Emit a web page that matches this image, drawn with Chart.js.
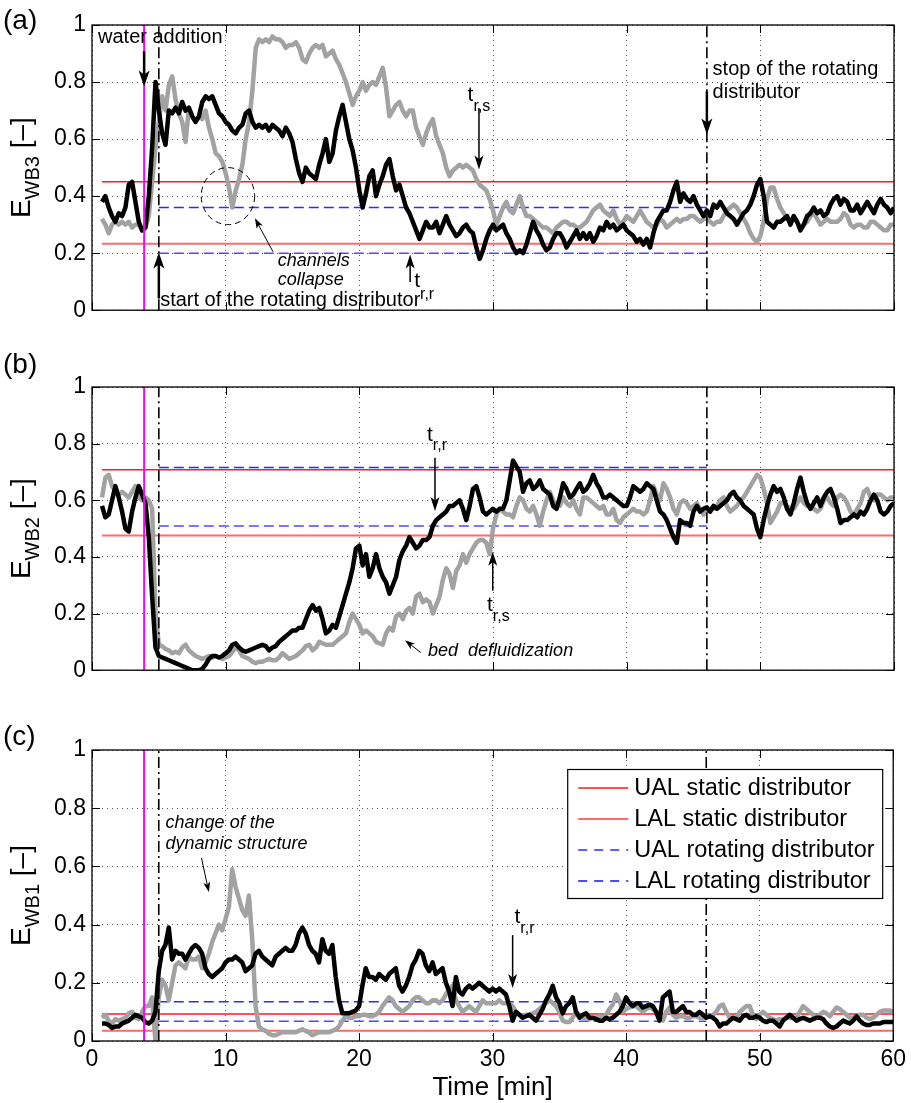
<!DOCTYPE html>
<html>
<head>
<meta charset="utf-8">
<script src="https://cdn.jsdelivr.net/npm/chart.js@4.4.1/dist/chart.umd.min.js"></script>
<style>
  body { margin: 0; background: #fff; }
  #wrap { position: relative; width: 911px; height: 1103px; }
  canvas { position: absolute; left: 0; }
</style>
</head>
<body>
<div id="wrap">
  <canvas id="cA" width="911" height="330" style="top:0px"></canvas>
  <canvas id="cB" width="911" height="360" style="top:330px"></canvas>
  <canvas id="cC" width="911" height="413" style="top:690px"></canvas>
</div>
<script>
// time axis: first sample at 0.75 min, one sample every 0.25 min up to 60 min
var T0 = 0.75, DT = 0.25;

// (a) E_WB3
var aBlack = [0.38,
  0.40,0.36,0.33,0.31, 0.34,0.33,0.36,0.44, 0.45,0.38,0.31,0.28, 0.29,0.40,0.57,0.80, 0.70,0.62,0.58,0.70,
  0.69,0.71,0.69,0.73, 0.70,0.71,0.68,0.66, 0.68,0.73,0.75,0.74, 0.75,0.72,0.69,0.68, 0.66,0.65,0.63,0.62,
  0.64,0.65,0.69,0.70, 0.66,0.64,0.65,0.64, 0.65,0.63,0.65,0.64, 0.63,0.61,0.64,0.62, 0.59,0.53,0.48,0.45,
  0.50,0.48,0.47,0.46, 0.51,0.55,0.60,0.52, 0.55,0.63,0.68,0.72, 0.66,0.60,0.56,0.50, 0.42,0.36,0.41,0.47,
  0.49,0.40,0.44,0.47, 0.51,0.53,0.47,0.42, 0.44,0.40,0.36,0.34, 0.31,0.28,0.25,0.28, 0.31,0.29,0.29,0.31,
  0.27,0.30,0.33,0.30, 0.28,0.26,0.27,0.29, 0.30,0.28,0.27,0.22, 0.18,0.21,0.25,0.28, 0.30,0.28,0.29,0.30,
  0.27,0.25,0.22,0.20, 0.21,0.20,0.23,0.27, 0.31,0.28,0.26,0.23, 0.21,0.22,0.25,0.27, 0.27,0.25,0.22,0.24,
  0.26,0.28,0.25,0.27, 0.25,0.27,0.24,0.26, 0.29,0.28,0.31,0.29, 0.30,0.28,0.29,0.30, 0.28,0.27,0.26,0.24,
  0.25,0.23,0.25,0.22, 0.27,0.31,0.33,0.35, 0.35,0.38,0.42,0.45, 0.38,0.41,0.39,0.38, 0.40,0.37,0.35,0.33,
  0.35,0.33,0.37,0.36, 0.38,0.36,0.34,0.33, 0.32,0.30,0.32,0.34, 0.35,0.37,0.40,0.44, 0.46,0.40,0.31,0.30,
  0.29,0.31,0.31,0.32, 0.33,0.30,0.33,0.31, 0.28,0.30,0.33,0.34, 0.36,0.34,0.35,0.33, 0.34,0.37,0.39,0.40,
  0.37,0.39,0.38,0.35, 0.35,0.37,0.34,0.36, 0.38,0.36,0.34,0.37, 0.39,0.37,0.36,0.34,
  0.36];
var aGray = [0.32,
  0.30,0.27,0.30,0.31, 0.30,0.31,0.30,0.31, 0.29,0.30,0.30,0.28, 0.29,0.33,0.45,0.57, 0.66,0.75,0.70,0.79,
  0.82,0.74,0.69,0.66, 0.59,0.71,0.68,0.66, 0.68,0.67,0.70,0.64, 0.60,0.55,0.54,0.52, 0.48,0.43,0.36,0.42,
  0.46,0.51,0.60,0.66, 0.77,0.92,0.95,0.94, 0.95,0.94,0.96,0.95, 0.95,0.94,0.92,0.93, 0.93,0.94,0.92,0.88,
  0.87,0.90,0.92,0.93, 0.92,0.93,0.89,0.90, 0.91,0.88,0.86,0.83, 0.80,0.76,0.72,0.75, 0.77,0.80,0.77,0.79,
  0.80,0.79,0.82,0.85, 0.78,0.68,0.70,0.72, 0.73,0.70,0.68,0.70, 0.70,0.64,0.61,0.58, 0.62,0.65,0.67,0.61,
  0.58,0.55,0.50,0.47, 0.49,0.50,0.51,0.50, 0.51,0.50,0.49,0.46, 0.44,0.43,0.42,0.39, 0.35,0.30,0.33,0.36,
  0.38,0.35,0.34,0.37, 0.40,0.36,0.33,0.33, 0.32,0.31,0.30,0.29, 0.29,0.28,0.27,0.29, 0.30,0.31,0.31,0.30,
  0.30,0.29,0.29,0.30, 0.31,0.33,0.35,0.36, 0.37,0.35,0.34,0.33, 0.35,0.32,0.30,0.31, 0.33,0.32,0.31,0.33,
  0.35,0.33,0.31,0.30, 0.29,0.30,0.32,0.31, 0.29,0.30,0.31,0.32, 0.31,0.32,0.32,0.33, 0.33,0.32,0.31,0.32,
  0.32,0.31,0.30,0.31, 0.31,0.33,0.35,0.36, 0.37,0.36,0.34,0.32, 0.30,0.27,0.25,0.24, 0.26,0.31,0.39,0.43,
  0.43,0.39,0.36,0.34, 0.32,0.31,0.33,0.31, 0.29,0.30,0.31,0.33, 0.34,0.32,0.30,0.31, 0.32,0.31,0.31,0.31,
  0.32,0.34,0.33,0.30, 0.29,0.30,0.30,0.29, 0.29,0.31,0.31,0.30, 0.29,0.28,0.28,0.30,
  0.30];

// (b) E_WB2
var bBlack = [0.58,
  0.54,0.55,0.60,0.65, 0.61,0.56,0.50,0.49, 0.56,0.61,0.65,0.62, 0.59,0.47,0.26,0.08, 0.05,0.045,0.04,0.035,
  0.03,0.025,0.02,0.015, 0.01,0.005,0.0,0.0, 0.0,0.005,0.02,0.04, 0.05,0.05,0.045,0.05, 0.06,0.07,0.09,0.095,
  0.08,0.07,0.065,0.07, 0.075,0.08,0.085,0.09, 0.085,0.07,0.08,0.085, 0.10,0.11,0.12,0.13, 0.14,0.14,0.15,0.15,
  0.18,0.21,0.23,0.21, 0.22,0.18,0.13,0.14, 0.16,0.15,0.19,0.23, 0.27,0.31,0.36,0.43, 0.44,0.37,0.41,0.33,
  0.36,0.41,0.36,0.33, 0.31,0.27,0.30,0.33, 0.39,0.42,0.44,0.47, 0.45,0.43,0.44,0.46, 0.46,0.47,0.51,0.53,
  0.54,0.55,0.56,0.58, 0.58,0.59,0.60,0.57, 0.53,0.58,0.64,0.65, 0.61,0.56,0.55,0.56, 0.57,0.56,0.57,0.57,
  0.60,0.67,0.74,0.72, 0.70,0.63,0.66,0.67, 0.64,0.65,0.67,0.64, 0.63,0.62,0.58,0.57, 0.61,0.66,0.64,0.61,
  0.62,0.64,0.66,0.63, 0.64,0.66,0.69,0.66, 0.64,0.61,0.61,0.62, 0.61,0.60,0.59,0.58, 0.58,0.61,0.65,0.64,
  0.63,0.64,0.66,0.65, 0.64,0.60,0.56,0.55, 0.53,0.50,0.47,0.45, 0.53,0.52,0.52,0.51, 0.56,0.58,0.56,0.57,
  0.575,0.56,0.58,0.57, 0.58,0.59,0.60,0.62, 0.63,0.61,0.60,0.58, 0.57,0.56,0.55,0.50, 0.47,0.53,0.58,0.62,
  0.65,0.63,0.64,0.61, 0.57,0.55,0.59,0.64, 0.68,0.63,0.59,0.57, 0.59,0.61,0.58,0.61, 0.63,0.64,0.61,0.57,
  0.52,0.53,0.53,0.54, 0.55,0.54,0.56,0.55, 0.57,0.60,0.62,0.60, 0.56,0.55,0.56,0.58,
  0.59];
var bGray = [0.61,
  0.68,0.69,0.65,0.63, 0.62,0.63,0.62,0.61, 0.63,0.65,0.61,0.60, 0.61,0.60,0.57,0.20, 0.09,0.085,0.075,0.07,
  0.06,0.065,0.06,0.08, 0.09,0.07,0.06,0.05, 0.045,0.04,0.045,0.05, 0.045,0.05,0.045,0.04, 0.045,0.05,0.065,0.08,
  0.07,0.05,0.045,0.04, 0.03,0.025,0.03,0.03, 0.035,0.04,0.035,0.035, 0.045,0.06,0.05,0.04, 0.045,0.05,0.06,0.07,
  0.085,0.09,0.07,0.08, 0.10,0.095,0.09,0.09, 0.09,0.10,0.11,0.12, 0.13,0.17,0.20,0.18, 0.16,0.13,0.14,0.13,
  0.12,0.10,0.095,0.09, 0.13,0.15,0.14,0.19, 0.20,0.18,0.21,0.22, 0.20,0.26,0.27,0.24, 0.25,0.24,0.20,0.23,
  0.26,0.32,0.36,0.34, 0.29,0.35,0.37,0.41, 0.38,0.41,0.43,0.45, 0.46,0.46,0.45,0.41, 0.50,0.55,0.57,0.56,
  0.55,0.55,0.54,0.58, 0.61,0.60,0.57,0.56, 0.58,0.55,0.51,0.56, 0.60,0.63,0.60,0.58, 0.58,0.61,0.59,0.58,
  0.60,0.57,0.55,0.61, 0.61,0.60,0.59,0.58, 0.57,0.58,0.55,0.55, 0.57,0.53,0.52,0.54, 0.55,0.56,0.57,0.56,
  0.56,0.55,0.56,0.60, 0.65,0.62,0.60,0.66, 0.64,0.61,0.57,0.55, 0.59,0.60,0.59,0.57, 0.58,0.59,0.57,0.55,
  0.56,0.57,0.57,0.58, 0.60,0.61,0.58,0.56, 0.57,0.58,0.60,0.61, 0.63,0.65,0.67,0.69, 0.68,0.64,0.59,0.52,
  0.54,0.56,0.59,0.59, 0.58,0.57,0.57,0.59, 0.61,0.59,0.58,0.58, 0.57,0.56,0.57,0.60, 0.61,0.59,0.58,0.61,
  0.62,0.61,0.59,0.56, 0.55,0.57,0.59,0.63, 0.64,0.61,0.60,0.62, 0.62,0.61,0.60,0.61,
  0.61];

// (c) E_WB1
var cBlack = [0.06,
  0.06,0.055,0.045,0.05, 0.05,0.06,0.065,0.07, 0.08,0.09,0.085,0.08, 0.065,0.06,0.07,0.10, 0.24,0.31,0.33,0.39,
  0.28,0.31,0.30,0.30, 0.28,0.30,0.32,0.33, 0.32,0.30,0.25,0.23, 0.22,0.23,0.24,0.25, 0.27,0.28,0.28,0.29,
  0.28,0.27,0.24,0.25, 0.26,0.30,0.31,0.29, 0.28,0.27,0.26,0.29, 0.30,0.31,0.32,0.31, 0.31,0.33,0.37,0.39,
  0.37,0.33,0.31,0.30, 0.27,0.35,0.31,0.30, 0.33,0.22,0.14,0.095, 0.095,0.095,0.10,0.105, 0.12,0.19,0.25,0.22,
  0.22,0.21,0.23,0.22, 0.21,0.23,0.24,0.25, 0.19,0.17,0.19,0.22, 0.26,0.28,0.31,0.30, 0.26,0.24,0.27,0.23,
  0.24,0.25,0.20,0.17, 0.12,0.22,0.17,0.16, 0.18,0.19,0.18,0.19, 0.20,0.19,0.18,0.17, 0.18,0.17,0.18,0.17,
  0.16,0.12,0.07,0.10, 0.09,0.08,0.085,0.09, 0.08,0.07,0.09,0.11, 0.14,0.16,0.19,0.15, 0.13,0.095,0.12,0.13,
  0.15,0.10,0.08,0.09, 0.095,0.08,0.08,0.075, 0.07,0.07,0.08,0.075, 0.08,0.09,0.10,0.12, 0.15,0.13,0.12,0.13,
  0.13,0.115,0.12,0.125, 0.12,0.10,0.07,0.15, 0.16,0.17,0.10,0.10, 0.11,0.12,0.10,0.10, 0.09,0.09,0.10,0.09,
  0.08,0.085,0.08,0.07, 0.05,0.06,0.06,0.07, 0.08,0.075,0.07,0.085, 0.09,0.08,0.08,0.085, 0.08,0.07,0.065,0.07,
  0.07,0.06,0.05,0.07, 0.08,0.09,0.08,0.07, 0.075,0.08,0.075,0.07, 0.075,0.08,0.08,0.075, 0.06,0.05,0.045,0.05,
  0.06,0.07,0.065,0.06, 0.07,0.085,0.07,0.06, 0.055,0.055,0.06,0.06, 0.06,0.065,0.065,0.065,
  0.065];
var cGray = [0.08,
  0.09,0.07,0.06,0.075, 0.07,0.075,0.08,0.095, 0.10,0.08,0.075,0.10, 0.12,0.12,0.15,0.0, 0.15,0.21,0.19,0.14,
  0.20,0.26,0.27,0.26, 0.25,0.29,0.28,0.28, 0.29,0.25,0.27,0.30, 0.34,0.37,0.40,0.38, 0.42,0.46,0.59,0.53,
  0.49,0.45,0.43,0.50, 0.35,0.12,0.05,0.04, 0.035,0.025,0.02,0.02, 0.025,0.03,0.03,0.03, 0.03,0.03,0.035,0.04,
  0.035,0.03,0.02,0.025, 0.03,0.03,0.03,0.03, 0.035,0.04,0.05,0.07, 0.085,0.08,0.08,0.085, 0.085,0.09,0.09,0.085,
  0.085,0.09,0.10,0.12, 0.135,0.15,0.14,0.12, 0.11,0.10,0.11,0.12, 0.14,0.15,0.15,0.14, 0.13,0.13,0.14,0.14,
  0.13,0.14,0.16,0.18, 0.19,0.14,0.12,0.10, 0.11,0.12,0.11,0.10, 0.12,0.14,0.13,0.13, 0.13,0.13,0.14,0.13,
  0.13,0.13,0.12,0.10, 0.09,0.085,0.09,0.09, 0.095,0.10,0.11,0.12, 0.13,0.14,0.13,0.12, 0.10,0.07,0.065,0.065,
  0.08,0.10,0.09,0.08, 0.08,0.075,0.08,0.08, 0.085,0.08,0.09,0.11, 0.125,0.16,0.14,0.10, 0.11,0.115,0.12,0.12,
  0.11,0.10,0.11,0.115, 0.11,0.10,0.08,0.07, 0.10,0.115,0.09,0.08, 0.085,0.085,0.08,0.08, 0.085,0.085,0.08,0.08,
  0.085,0.085,0.09,0.10, 0.12,0.125,0.10,0.08, 0.08,0.08,0.10,0.11, 0.12,0.12,0.09,0.075, 0.09,0.10,0.09,0.08,
  0.075,0.07,0.075,0.075, 0.08,0.08,0.08,0.08, 0.10,0.12,0.11,0.10, 0.09,0.08,0.09,0.10, 0.095,0.085,0.10,0.115,
  0.11,0.10,0.09,0.08, 0.08,0.085,0.09,0.09, 0.08,0.075,0.08,0.09, 0.10,0.105,0.105,0.105,
  0.10];

// action limits for panels a, b, c
var ualStatic = [0.45, 0.708, 0.093];
var lalStatic = [0.233, 0.476, 0.035];
var ualRot = [0.36, 0.716, 0.135];
var lalRot = [0.20, 0.509, 0.068];

// event times [min]
var tWater = 3.9, tStart = 5, tStop = 46;

var xTicks = [0, 10, 20, 30, 40, 50, 60];
var yTicks = [0, 0.2, 0.4, 0.6, 0.8, 1];

var FONT = "'Liberation Sans', Arial, sans-serif";
Chart.defaults.font.family = FONT;
Chart.defaults.color = '#000';

function pts(vals) {
  return vals.map(function(v, i) { return {x: T0 + i * DT, y: v}; });
}
function hline(x1, x2, v) { return [{x: x1, y: v}, {x: x2, y: v}]; }
function vline(t) { return [{x: t, y: 0}, {x: t, y: 1}]; }

function arrow(ctx, x1, y1, x2, y2, lw, len, wid) {
  var a = Math.atan2(y2 - y1, x2 - x1);
  var ux = Math.cos(a), uy = Math.sin(a), nx = -uy, ny = ux;
  var bx = x2 - ux * len, by = y2 - uy * len;
  var mx = x2 - ux * len * 0.75, my = y2 - uy * len * 0.75;
  ctx.save();
  ctx.strokeStyle = '#000'; ctx.fillStyle = '#000'; ctx.lineWidth = lw;
  ctx.beginPath(); ctx.moveTo(x1, y1); ctx.lineTo(mx, my); ctx.stroke();
  ctx.beginPath();
  ctx.moveTo(x2, y2);
  ctx.lineTo(bx + nx * wid / 2, by + ny * wid / 2);
  ctx.lineTo(mx, my);
  ctx.lineTo(bx - nx * wid / 2, by - ny * wid / 2);
  ctx.closePath(); ctx.fill();
  ctx.restore();
}

function text(ctx, s, x, y, size, italic) {
  ctx.font = (italic ? 'italic ' : '') + size + 'px ' + FONT;
  ctx.fillStyle = '#000';
  ctx.textBaseline = 'alphabetic';
  ctx.textAlign = 'left';
  ctx.fillText(s, x, y);
}

// "t" with a subscript, placed in data coordinates
function tsub(ctx, X, Y, t, v, vs, sub) {
  text(ctx, 't', X(t), Y(v), 21);
  var w = ctx.measureText('t').width;
  text(ctx, sub, X(t) + w, Y(vs), 16);
}

var annotations = [
  // (a)
  function(ctx, X, Y) {
    text(ctx, 'water addition', X(0.45), Y(0.938), 20);
    arrow(ctx, X(tWater), Y(0.908), X(tWater), Y(0.784), 2.5, 16, 11);
    arrow(ctx, X(tStart), Y(0.041), X(tStart), Y(0.202), 2.5, 16, 11);
    text(ctx, 'start of the rotating distributor', X(5.1), Y(0.014), 20);
    tsub(ctx, X, Y, 24.1, 0.082, 0.041, 'r,r');
    arrow(ctx, X(23.8), Y(0.099), X(23.8), Y(0.195), 1.5, 14, 9);
    tsub(ctx, X, Y, 28.1, 0.733, 0.699, 'r,s');
    arrow(ctx, X(28.95), Y(0.709), X(28.95), Y(0.493), 1.5, 14, 9);
    text(ctx, 'stop of the rotating', X(46.43), Y(0.825), 20);
    text(ctx, 'distributor', X(46.43), Y(0.743), 20);
    arrow(ctx, X(tStop), Y(0.767), X(tStop), Y(0.616), 2.5, 16, 11);
    text(ctx, 'channels', X(13.9), Y(0.154), 18, true);
    text(ctx, 'collapse', X(13.9), Y(0.089), 18, true);
    arrow(ctx, X(13.54), Y(0.205), X(12.19), Y(0.322), 1, 10, 7);
    ctx.save();
    ctx.setLineDash([6, 4]); ctx.lineWidth = 1; ctx.strokeStyle = '#000';
    ctx.beginPath();
    ctx.ellipse(X(10.17), Y(0.40), X(12.17) - X(10.17), Y(0.30) - Y(0.40), 0, 0, Math.PI * 2);
    ctx.stroke();
    ctx.restore();
  },
  // (b)
  function(ctx, X, Y) {
    tsub(ctx, X, Y, 25.06, 0.808, 0.777, 'r,r');
    arrow(ctx, X(25.66), Y(0.75), X(25.66), Y(0.562), 1.5, 14, 9);
    tsub(ctx, X, Y, 29.55, 0.209, 0.175, 'r,s');
    arrow(ctx, X(29.98), Y(0.281), X(29.98), Y(0.418), 1.5, 14, 9);
    text(ctx, 'bed  defluidization', X(25.14), Y(0.051), 18, true);
    arrow(ctx, X(24.6), Y(0.062), X(23.42), Y(0.106), 1, 10, 7);
  },
  // (c)
  function(ctx, X, Y) {
    text(ctx, 'change of the', X(5.51), Y(0.732), 18, true);
    text(ctx, 'dynamic structure', X(5.51), Y(0.660), 18, true);
    arrow(ctx, X(8.2), Y(0.629), X(8.75), Y(0.512), 1, 10, 7);
    tsub(ctx, X, Y, 31.64, 0.405, 0.371, 'r,r');
    arrow(ctx, X(31.5), Y(0.364), X(31.5), Y(0.182), 1.5, 14, 9);
  }
];

var legendItems = [
  {label: 'UAL static distributor', color: '#ff1a1a', width: 1.5, dash: []},
  {label: 'LAL static distributor', color: '#ff6a6a', width: 2, dash: []},
  {label: 'UAL rotating distributor', color: '#2a2aff', width: 1.5, dash: [9, 7]},
  {label: 'LAL rotating distributor', color: '#4a4aff', width: 2, dash: [9, 7]}
];

function drawLegend(ctx, area) {
  var left = area.right - 326, top = area.top + 19;
  ctx.save();
  ctx.fillStyle = '#fff';
  ctx.fillRect(left, top, 315, 129);
  ctx.strokeStyle = '#000'; ctx.lineWidth = 1.2;
  ctx.strokeRect(left + 0.5, top + 0.5, 315, 129);
  legendItems.forEach(function(it, i) {
    var y = top + 19 + i * 31;
    ctx.save();
    ctx.strokeStyle = it.color; ctx.lineWidth = it.width; ctx.setLineDash(it.dash);
    ctx.beginPath(); ctx.moveTo(left + 11, y); ctx.lineTo(left + 61, y); ctx.stroke();
    ctx.restore();
    ctx.font = '23.5px ' + FONT; ctx.fillStyle = '#000';
    ctx.textBaseline = 'middle'; ctx.textAlign = 'left';
    ctx.fillText(it.label, left + 67, y + 1);
  });
  ctx.restore();
}

var panelPlugin = {
  id: 'panelDeco',
  afterDatasetsDraw: function(chart) {
    var ctx = chart.ctx, a = chart.chartArea, sx = chart.scales.x, sy = chart.scales.y;
    var o = chart.options.plugins.panelDeco;
    ctx.save();
    // box and inward ticks on all four sides
    ctx.strokeStyle = '#000'; ctx.lineWidth = 1.3;
    ctx.strokeRect(a.left, a.top, a.right - a.left, a.bottom - a.top);
    ctx.lineWidth = 1;
    ctx.beginPath();
    xTicks.forEach(function(t) {
      var px = Math.round(sx.getPixelForValue(t)) + 0.5;
      ctx.moveTo(px, a.bottom); ctx.lineTo(px, a.bottom - 8);
      ctx.moveTo(px, a.top); ctx.lineTo(px, a.top + 8);
    });
    yTicks.forEach(function(v) {
      var py = Math.round(sy.getPixelForValue(v)) + 0.5;
      ctx.moveTo(a.left, py); ctx.lineTo(a.left + 8, py);
      ctx.moveTo(a.right, py); ctx.lineTo(a.right - 8, py);
    });
    ctx.stroke();
    ctx.restore();

    var X = function(t) { return sx.getPixelForValue(t); };
    var Y = function(v) { return sy.getPixelForValue(v); };
    ctx.save();
    annotations[o.k](ctx, X, Y);
    ctx.restore();
    if (o.legend) drawLegend(ctx, a);

    // panel letter
    ctx.save();
    ctx.font = '28px ' + FONT; ctx.fillStyle = '#000';
    ctx.textBaseline = 'middle'; ctx.textAlign = 'left';
    ctx.fillText(o.letter, 3, o.letterY);
    ctx.restore();

    // rotated y label: E_sub [–]
    var cy = (a.top + a.bottom) / 2, bx = 30;
    ctx.save();
    ctx.translate(bx, cy);
    ctx.rotate(-Math.PI / 2);
    ctx.fillStyle = '#000'; ctx.textBaseline = 'alphabetic'; ctx.textAlign = 'left';
    ctx.font = '28px ' + FONT;
    var wE = ctx.measureText('E').width, wB = ctx.measureText(' [\u2013]').width;
    ctx.font = '20px ' + FONT;
    var wS = ctx.measureText(o.sub).width;
    var x0 = -(wE + wS + wB) / 2;
    ctx.font = '28px ' + FONT; ctx.fillText('E', x0, 0);
    ctx.font = '20px ' + FONT; ctx.fillText(o.sub, x0 + wE, 9);
    ctx.font = '28px ' + FONT; ctx.fillText(' [\u2013]', x0 + wE + wS, 0);
    ctx.restore();
  }
};

function makePanel(id, k, black, gray, sub, letter, letterY, padTop, xHeight, showX) {
  var datasets = [
    {data: vline(tWater), borderColor: '#ff00ff', borderWidth: 2},
    {data: vline(tStart), borderColor: '#000', borderWidth: 1.6, borderDash: [11, 4, 2, 4]},
    {data: vline(tStop), borderColor: '#000', borderWidth: 1.6, borderDash: [11, 4, 2, 4]},
    {data: pts(black), borderColor: '#000', borderWidth: 4.5},
    {data: pts(gray), borderColor: '#a2a2a2', borderWidth: 4.5},
    {data: hline(T0, 60, ualStatic[k]), borderColor: legendItems[0].color, borderWidth: 1.5},
    {data: hline(T0, 60, lalStatic[k]), borderColor: legendItems[1].color, borderWidth: 2},
    {data: hline(tStart, tStop, ualRot[k]), borderColor: legendItems[2].color, borderWidth: 1.5, borderDash: [10, 5]},
    {data: hline(tStart, tStop, lalRot[k]), borderColor: legendItems[3].color, borderWidth: 1.5, borderDash: [10, 5]}
  ];
  datasets.forEach(function(d) {
    d.pointRadius = 0; d.fill = false; d.tension = 0;
    d.borderJoinStyle = 'round'; d.borderCapStyle = 'butt';
  });
  return new Chart(document.getElementById(id), {
    type: 'line',
    data: {datasets: datasets},
    options: {
      responsive: false,
      animation: false,
      devicePixelRatio: 1,
      layout: {padding: {left: 0, right: 17, top: padTop, bottom: 0}},
      plugins: {
        legend: {display: false},
        tooltip: {enabled: false},
        panelDeco: {k: k, sub: sub, letter: letter, letterY: letterY, legend: k === 2}
      },
      scales: {
        x: {
          type: 'linear', min: 0, max: 60,
          ticks: {stepSize: 10, display: showX, padding: 5, font: {size: 23}, maxRotation: 0},
          grid: {color: '#555', lineWidth: 1, drawTicks: false},
          border: {display: false, dash: [1, 4]},
          title: {display: showX, text: 'Time [min]', font: {size: 26}, padding: {top: 0, bottom: 0}},
          afterFit: function(s) { s.height = xHeight; }
        },
        y: {
          min: 0, max: 1,
          ticks: {stepSize: 0.2, padding: 6, font: {size: 23},
            callback: function(v) { return String(+v.toFixed(1)); }},
          grid: {color: '#555', lineWidth: 1, drawTicks: false},
          border: {display: false, dash: [1, 4]},
          afterFit: function(s) { s.width = 92; }
        }
      }
    },
    plugins: [panelPlugin]
  });
}

makePanel('cA', 0, aBlack, aGray, 'WB3', '(a)', 21, 25, 13, false);
makePanel('cB', 1, bBlack, bGray, 'WB2', '(b)', 35, 57, 11, false);
makePanel('cC', 2, cBlack, cGray, 'WB1', '(c)', 47, 60, 62, true);
</script>
</body>
</html>
